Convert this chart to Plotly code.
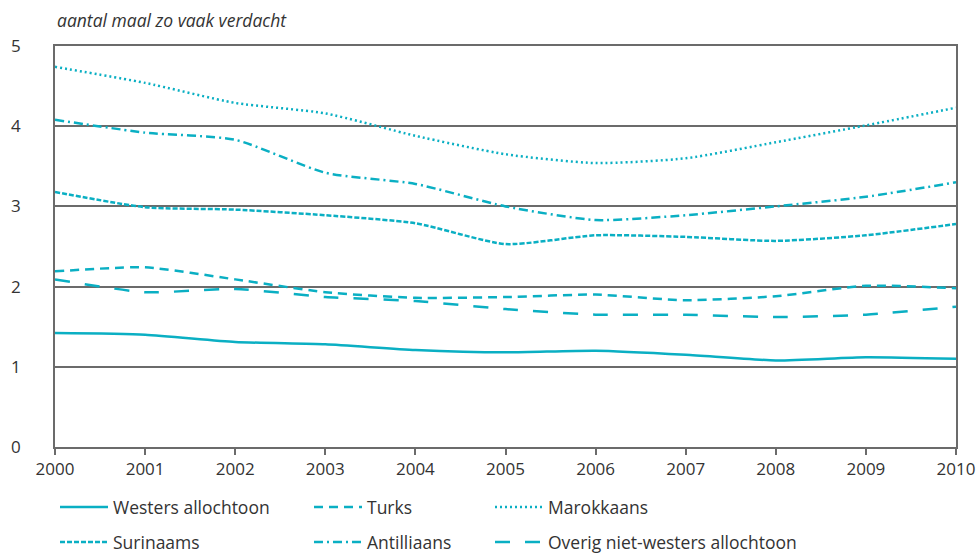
import plotly.graph_objects as go

years = [2000, 2001, 2002, 2003, 2004, 2005, 2006, 2007, 2008, 2009, 2010]
westers = [1.42, 1.40, 1.31, 1.28, 1.21, 1.18, 1.20, 1.15, 1.08, 1.12, 1.10]
turks = [2.19, 2.24, 2.09, 1.93, 1.86, 1.87, 1.90, 1.83, 1.88, 2.01, 1.98]
marokkaans = [4.74, 4.54, 4.29, 4.16, 3.88, 3.65, 3.54, 3.60, 3.80, 4.01, 4.23]
surinaams = [3.18, 2.99, 2.96, 2.89, 2.79, 2.53, 2.64, 2.62, 2.57, 2.64, 2.78]
antilliaans = [4.08, 3.92, 3.83, 3.42, 3.28, 3.00, 2.83, 2.89, 3.00, 3.12, 3.30]
overig = [2.09, 1.93, 1.97, 1.87, 1.82, 1.72, 1.65, 1.65, 1.62, 1.65, 1.75]

COLOR = "#0aafc3"
FONT = "Open Sans"
TXT = "#333333"
GRID = "#6b6b6b"

# (name, values, dash, legend id, legend x (paper), legend y (paper))
series = [
    ("Westers allochtoon", westers, "solid", "legend", 0.0, -0.150),
    ("Turks", turks, "9px,6px", "legend2", 0.2819, -0.150),
    ("Marokkaans", marokkaans, "2px,3px", "legend3", 0.4828, -0.150),
    ("Surinaams", surinaams, "5px,2px", "legend4", 0.0, -0.237),
    ("Antilliaans", antilliaans, "9px,4px,2px,4px", "legend5", 0.2819, -0.237),
    ("Overig niet-westers allochtoon", overig, "15px,15px", "legend6", 0.4828, -0.237),
]

fig = go.Figure()
legends = {}
for name, vals, dash, lg, lx, ly in series:
    fig.add_trace(go.Scatter(
        x=years, y=vals, name=name, mode="lines", showlegend=True,
        line=dict(color=COLOR, width=2.5, dash=dash, shape="spline", smoothing=0.6),
        legend=lg,
    ))
    legends[lg] = dict(
        orientation="v", yanchor="middle", y=ly, xanchor="left", x=lx,
        font=dict(family=FONT, size=17.5, color=TXT),
        bgcolor="rgba(0,0,0,0)", itemwidth=48, borderwidth=0,
        visible=True,
    )

fig.update_layout(
    width=976, height=553,
    showlegend=True,
    margin=dict(l=55, r=20, t=46, b=106, autoexpand=False),
    paper_bgcolor="white", plot_bgcolor="white",
    font=dict(family=FONT, size=17, color=TXT),
    xaxis=dict(
        range=[2000, 2010], tickmode="array", tickvals=years,
        ticktext=[str(y) for y in years],
        showgrid=False, zeroline=False, automargin=False,
        showline=True, linecolor=GRID, linewidth=1.5, mirror=True,
        ticks="outside", ticklen=6, tickcolor=GRID, tickwidth=1.5,
        tickfont=dict(family=FONT, size=17, color=TXT),
    ),
    yaxis=dict(
        range=[0, 5], tickvals=[0, 1, 2, 3, 4, 5],
        showgrid=True, gridcolor=GRID, gridwidth=1.5, zeroline=False, automargin=False,
        showline=True, linecolor=GRID, linewidth=1.5, mirror=True,
        ticks="", ticklabelstandoff=29,
        tickfont=dict(family=FONT, size=17, color=TXT),
    ),
    annotations=[dict(
        text="<i>aantal maal zo vaak verdacht</i>", x=0, xref="paper",
        y=1.0, yref="paper", yshift=26, xanchor="left", yanchor="middle",
        showarrow=False, font=dict(family=FONT, size=17.5, color=TXT),
    )],
    **legends,
)

fig.write_html(
    "out.html",
    config={"displayModeBar": False},
    post_script="document.body.style.margin='0';document.body.style.overflow='hidden';",
)
